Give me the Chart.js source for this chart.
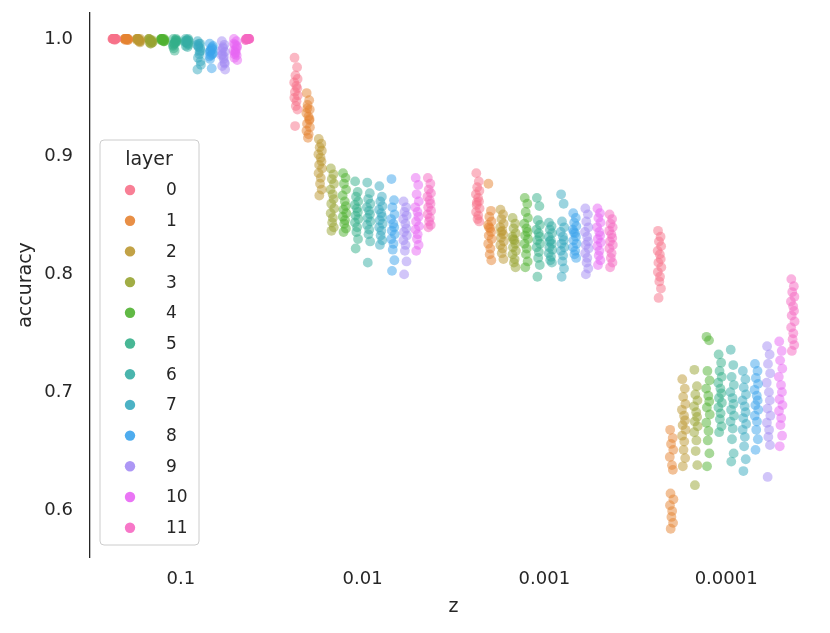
<!DOCTYPE html>
<html>
<head>
<meta charset="utf-8">
<script src="https://cdn.jsdelivr.net/npm/chart.js@4.4.1/dist/chart.umd.min.js"></script>
<style>
  body { margin: 0; background: #fff; }
  #wrap { width: 830px; height: 633px; }
</style>
</head>
<body>
<div id="wrap"><canvas id="chart" width="830" height="633"></canvas></div>
<script>
// categories on the x axis (z) and the hue levels (layer)
const categories = ["0.1", "0.01", "0.001", "0.0001"];
const layers = [0, 1, 2, 3, 4, 5, 6, 7, 8, 9, 10, 11];
const layerColors = [
  "#f77189", "#e68332", "#bb9832", "#97a431", "#50b131", "#34af8a",
  "#36ada4", "#38aabf", "#3ba3ec", "#a48cf4", "#e866f4", "#f668c2"
];
const yTicks = [0.6, 0.7, 0.8, 0.9, 1.0];

// accuracy samples, one list per layer, for z = 0.1
const accZ1 = [
  [1.0, 1.0, 1.0, 1.0, 1.0, 1.0, 1.0, 1.0, 1.0, 1.0, 0.999, 1.0, 1.0, 1.0],
  [1.0, 1.0, 1.0, 0.999, 1.0, 1.0, 1.0, 0.999, 1.0, 1.0, 1.0, 1.0, 0.999, 1.0],
  [1.0, 0.999, 1.0, 0.998, 1.0, 0.999, 0.998, 1.0, 1.0, 0.999, 0.998, 1.0, 0.997, 1.0],
  [1.0, 0.998, 0.999, 0.997, 1.0, 0.996, 0.998, 0.999, 0.997, 1.0, 0.998, 0.996, 0.999, 0.997],
  [1.0, 0.999, 1.0, 0.998, 0.999, 1.0, 0.998, 1.0, 0.999, 1.0, 0.998, 0.999, 1.0, 0.999],
  [1.0, 0.998, 0.996, 0.999, 0.994, 0.997, 1.0, 0.992, 0.998, 0.995, 0.999, 0.99, 0.997, 0.996],
  [1.0, 0.999, 0.997, 0.995, 0.998, 0.996, 1.0, 0.994, 0.998, 0.997, 0.993, 0.999, 0.996, 0.998],
  [0.998, 0.996, 0.993, 0.99, 0.995, 0.987, 0.992, 0.984, 0.978, 0.974, 0.989, 0.996, 0.981, 0.994],
  [0.996, 0.993, 0.99, 0.988, 0.985, 0.992, 0.987, 0.983, 0.994, 0.989, 0.975, 0.986, 0.991, 0.99],
  [0.998, 0.995, 0.992, 0.989, 0.986, 0.983, 0.98, 0.977, 0.974, 0.99, 0.985, 0.993, 0.979, 0.987],
  [1.0, 0.998, 0.995, 0.993, 0.99, 0.988, 0.986, 0.984, 0.982, 0.996, 0.991, 0.989, 0.994, 0.987],
  [1.0, 1.0, 1.0, 1.0, 0.999, 1.0, 1.0, 1.0, 1.0, 0.999, 1.0, 1.0, 1.0, 1.0]
];
// z = 0.01
const accZ2 = [
  [0.984, 0.976, 0.969, 0.966, 0.963, 0.96, 0.958, 0.955, 0.952, 0.95, 0.947, 0.943, 0.94, 0.926],
  [0.954, 0.948, 0.944, 0.94, 0.937, 0.934, 0.931, 0.928, 0.925, 0.922, 0.919, 0.916, 0.932, 0.941],
  [0.915, 0.911, 0.908, 0.905, 0.902, 0.899, 0.896, 0.893, 0.89, 0.886, 0.882, 0.877, 0.872, 0.867],
  [0.89, 0.885, 0.881, 0.877, 0.872, 0.868, 0.864, 0.86, 0.856, 0.852, 0.848, 0.844, 0.84, 0.837],
  [0.886, 0.882, 0.877, 0.872, 0.867, 0.862, 0.858, 0.855, 0.852, 0.849, 0.846, 0.843, 0.839, 0.836],
  [0.879, 0.87, 0.866, 0.862, 0.859, 0.856, 0.853, 0.85, 0.847, 0.844, 0.84, 0.836, 0.83, 0.822],
  [0.878, 0.869, 0.864, 0.86, 0.857, 0.854, 0.851, 0.848, 0.845, 0.842, 0.838, 0.834, 0.828, 0.81],
  [0.875, 0.866, 0.862, 0.858, 0.855, 0.852, 0.849, 0.846, 0.843, 0.84, 0.837, 0.833, 0.829, 0.825],
  [0.881, 0.863, 0.857, 0.851, 0.847, 0.843, 0.84, 0.837, 0.834, 0.83, 0.826, 0.821, 0.812, 0.803],
  [0.862, 0.857, 0.853, 0.85, 0.847, 0.843, 0.839, 0.836, 0.833, 0.829, 0.825, 0.82, 0.811, 0.8],
  [0.882, 0.876, 0.868, 0.862, 0.857, 0.853, 0.849, 0.845, 0.841, 0.838, 0.834, 0.83, 0.825, 0.82],
  [0.882, 0.877, 0.872, 0.869, 0.866, 0.863, 0.86, 0.857, 0.854, 0.851, 0.848, 0.845, 0.842, 0.84]
];
// z = 0.001
const accZ3 = [
  [0.886, 0.879, 0.874, 0.871, 0.868, 0.865, 0.862, 0.859, 0.856, 0.853, 0.85, 0.847, 0.845, 0.861],
  [0.877, 0.854, 0.849, 0.845, 0.842, 0.839, 0.836, 0.833, 0.83, 0.826, 0.822, 0.817, 0.812, 0.84],
  [0.855, 0.851, 0.847, 0.843, 0.84, 0.837, 0.834, 0.831, 0.828, 0.825, 0.822, 0.818, 0.813, 0.836],
  [0.848, 0.843, 0.839, 0.835, 0.832, 0.829, 0.826, 0.823, 0.82, 0.817, 0.813, 0.81, 0.806, 0.83],
  [0.865, 0.86, 0.853, 0.848, 0.843, 0.839, 0.836, 0.833, 0.83, 0.826, 0.822, 0.817, 0.811, 0.806],
  [0.865, 0.858, 0.846, 0.842, 0.838, 0.835, 0.832, 0.829, 0.826, 0.823, 0.819, 0.814, 0.808, 0.798],
  [0.844, 0.841, 0.838, 0.835, 0.832, 0.829, 0.826, 0.823, 0.821, 0.818, 0.815, 0.812, 0.81, 0.828],
  [0.868, 0.86, 0.845, 0.84, 0.836, 0.832, 0.829, 0.826, 0.823, 0.82, 0.816, 0.811, 0.805, 0.798],
  [0.852, 0.848, 0.844, 0.841, 0.838, 0.835, 0.832, 0.829, 0.826, 0.823, 0.82, 0.817, 0.814, 0.836],
  [0.856, 0.851, 0.845, 0.84, 0.836, 0.832, 0.828, 0.825, 0.822, 0.818, 0.814, 0.81, 0.805, 0.8],
  [0.856, 0.852, 0.848, 0.844, 0.84, 0.836, 0.833, 0.83, 0.827, 0.824, 0.82, 0.816, 0.812, 0.808],
  [0.851, 0.847, 0.843, 0.84, 0.837, 0.834, 0.831, 0.828, 0.825, 0.822, 0.818, 0.814, 0.81, 0.806]
];
// z = 0.0001
const accZ4 = [
  [0.837, 0.832, 0.828, 0.824, 0.82, 0.817, 0.813, 0.81, 0.806, 0.802, 0.798, 0.794, 0.788, 0.78],
  [0.668, 0.661, 0.656, 0.651, 0.645, 0.638, 0.634, 0.614, 0.609, 0.604, 0.599, 0.594, 0.589, 0.584],
  [0.711, 0.703, 0.696, 0.69, 0.685, 0.68, 0.676, 0.672, 0.668, 0.663, 0.658, 0.651, 0.644, 0.637],
  [0.719, 0.705, 0.698, 0.693, 0.688, 0.683, 0.679, 0.675, 0.671, 0.666, 0.659, 0.65, 0.638, 0.621],
  [0.747, 0.744, 0.718, 0.71, 0.703, 0.697, 0.692, 0.687, 0.681, 0.674, 0.667, 0.659, 0.648, 0.637],
  [0.732, 0.725, 0.718, 0.713, 0.708, 0.703, 0.699, 0.695, 0.691, 0.687, 0.682, 0.677, 0.671, 0.666],
  [0.736, 0.723, 0.713, 0.706, 0.7, 0.695, 0.69, 0.685, 0.68, 0.675, 0.669, 0.66, 0.648, 0.641],
  [0.718, 0.711, 0.704, 0.698, 0.693, 0.688, 0.683, 0.678, 0.673, 0.668, 0.662, 0.654, 0.643, 0.633],
  [0.724, 0.718, 0.712, 0.707, 0.702, 0.697, 0.693, 0.689, 0.685, 0.68, 0.675, 0.668, 0.66, 0.651],
  [0.739, 0.732, 0.724, 0.716, 0.708, 0.7, 0.693, 0.686, 0.68, 0.674, 0.668, 0.662, 0.655, 0.628],
  [0.743, 0.735, 0.727, 0.72, 0.713, 0.706, 0.7, 0.694, 0.689, 0.684, 0.678, 0.672, 0.663, 0.654],
  [0.796, 0.79, 0.785, 0.781, 0.777, 0.773, 0.769, 0.765, 0.76, 0.755, 0.75, 0.745, 0.74, 0.735]
];
const accByZ = [accZ1, accZ2, accZ3, accZ4];

// small fixed horizontal jitter (in category units), reused for every strip
const jitter = [-0.008, 0.006, -0.003, 0.009, -0.01, 0.002, 0.007, -0.006, 0.01, -0.009, 0.003, -0.001, 0.008, -0.005];
const dodgeWidth = 0.8 / layers.length;

function hexA(hex, a) {
  const n = parseInt(hex.slice(1), 16);
  return "rgba(" + (n >> 16) + "," + ((n >> 8) & 255) + "," + (n & 255) + "," + a + ")";
}

const datasets = layers.map((layer, l) => {
  const pts = [];
  accByZ.forEach((group, c) => {
    group[l].forEach((v, i) => {
      pts.push({ x: c + (l - (layers.length - 1) / 2) * dodgeWidth + jitter[i % jitter.length], y: v });
    });
  });
  return {
    label: String(layer),
    data: pts,
    backgroundColor: hexA(layerColors[l], 0.5),
    borderWidth: 0,
    pointRadius: 4.9,
    pointHoverRadius: 4.9,
    clip: false
  };
});

const textColor = "#262626";
const font = "DejaVu Sans";

// legend box drawn inside the plot, like the seaborn one
const legendBox = {
  id: "legendBox",
  afterDraw(chart) {
    const ctx = chart.ctx;
    const x = 100, y = 140, w = 99, h = 405, r = 4;
    ctx.save();
    ctx.beginPath();
    ctx.moveTo(x + r, y);
    ctx.arcTo(x + w, y, x + w, y + h, r);
    ctx.arcTo(x + w, y + h, x, y + h, r);
    ctx.arcTo(x, y + h, x, y, r);
    ctx.arcTo(x, y, x + w, y, r);
    ctx.closePath();
    ctx.fillStyle = "rgba(255,255,255,0.8)";
    ctx.fill();
    ctx.strokeStyle = "#cccccc";
    ctx.lineWidth = 1;
    ctx.stroke();

    ctx.fillStyle = textColor;
    ctx.font = "19px '" + font + "'";
    ctx.textAlign = "center";
    ctx.textBaseline = "middle";
    ctx.fillText("layer", 149, 160);

    ctx.textAlign = "left";
    ctx.font = "17px '" + font + "'";
    layers.forEach((layer, l) => {
      const cy = 190 + l * 30.7;
      ctx.beginPath();
      ctx.arc(130, cy, 5.2, 0, Math.PI * 2);
      ctx.fillStyle = hexA(layerColors[l], 0.9);
      ctx.fill();
      ctx.fillStyle = textColor;
      ctx.fillText(String(layer), 166, cy + 1);
    });
    ctx.restore();
  }
};

new Chart(document.getElementById("chart"), {
  type: "scatter",
  data: { datasets: datasets },
  plugins: [legendBox],
  options: {
    responsive: false,
    animation: false,
    devicePixelRatio: 1,
    events: [],
    layout: { autoPadding: false, padding: { top: 13, right: 13, left: 0, bottom: 0 } },
    plugins: {
      legend: { display: false },
      tooltip: { enabled: false }
    },
    scales: {
      x: {
        type: "linear",
        min: -0.5,
        max: 3.5,
        afterFit(scale) {
          scale.height = 76;
          scale.paddingLeft = 0;
          scale.paddingRight = 0;
        },
        afterBuildTicks(scale) { scale.ticks = categories.map((c, i) => ({ value: i })); },
        grid: { display: false, drawTicks: false },
        border: { display: false },
        ticks: {
          color: textColor,
          font: { family: font, size: 18 },
          padding: 12,
          maxRotation: 0,
          callback: (v) => categories[Math.round(v)]
        },
        title: {
          display: true,
          text: "z",
          color: textColor,
          font: { family: font, size: 19 },
          padding: { top: 0, bottom: 15 }
        }
      },
      y: {
        min: 0.56,
        max: 1.022,
        afterFit(scale) {
          scale.width = 90;
          scale.paddingTop = 0;
          scale.paddingBottom = 0;
        },
        afterBuildTicks(scale) { scale.ticks = yTicks.map((v) => ({ value: v })); },
        grid: { display: false, drawTicks: false },
        border: { display: true, color: "#262626", width: 1.3 },
        ticks: {
          color: textColor,
          font: { family: font, size: 18 },
          padding: 17,
          callback: (v) => v.toFixed(1)
        },
        title: {
          display: true,
          text: "accuracy",
          color: textColor,
          font: { family: font, size: 19 },
          padding: { top: 15, bottom: 0 }
        }
      }
    }
  }
});
</script>
</body>
</html>
